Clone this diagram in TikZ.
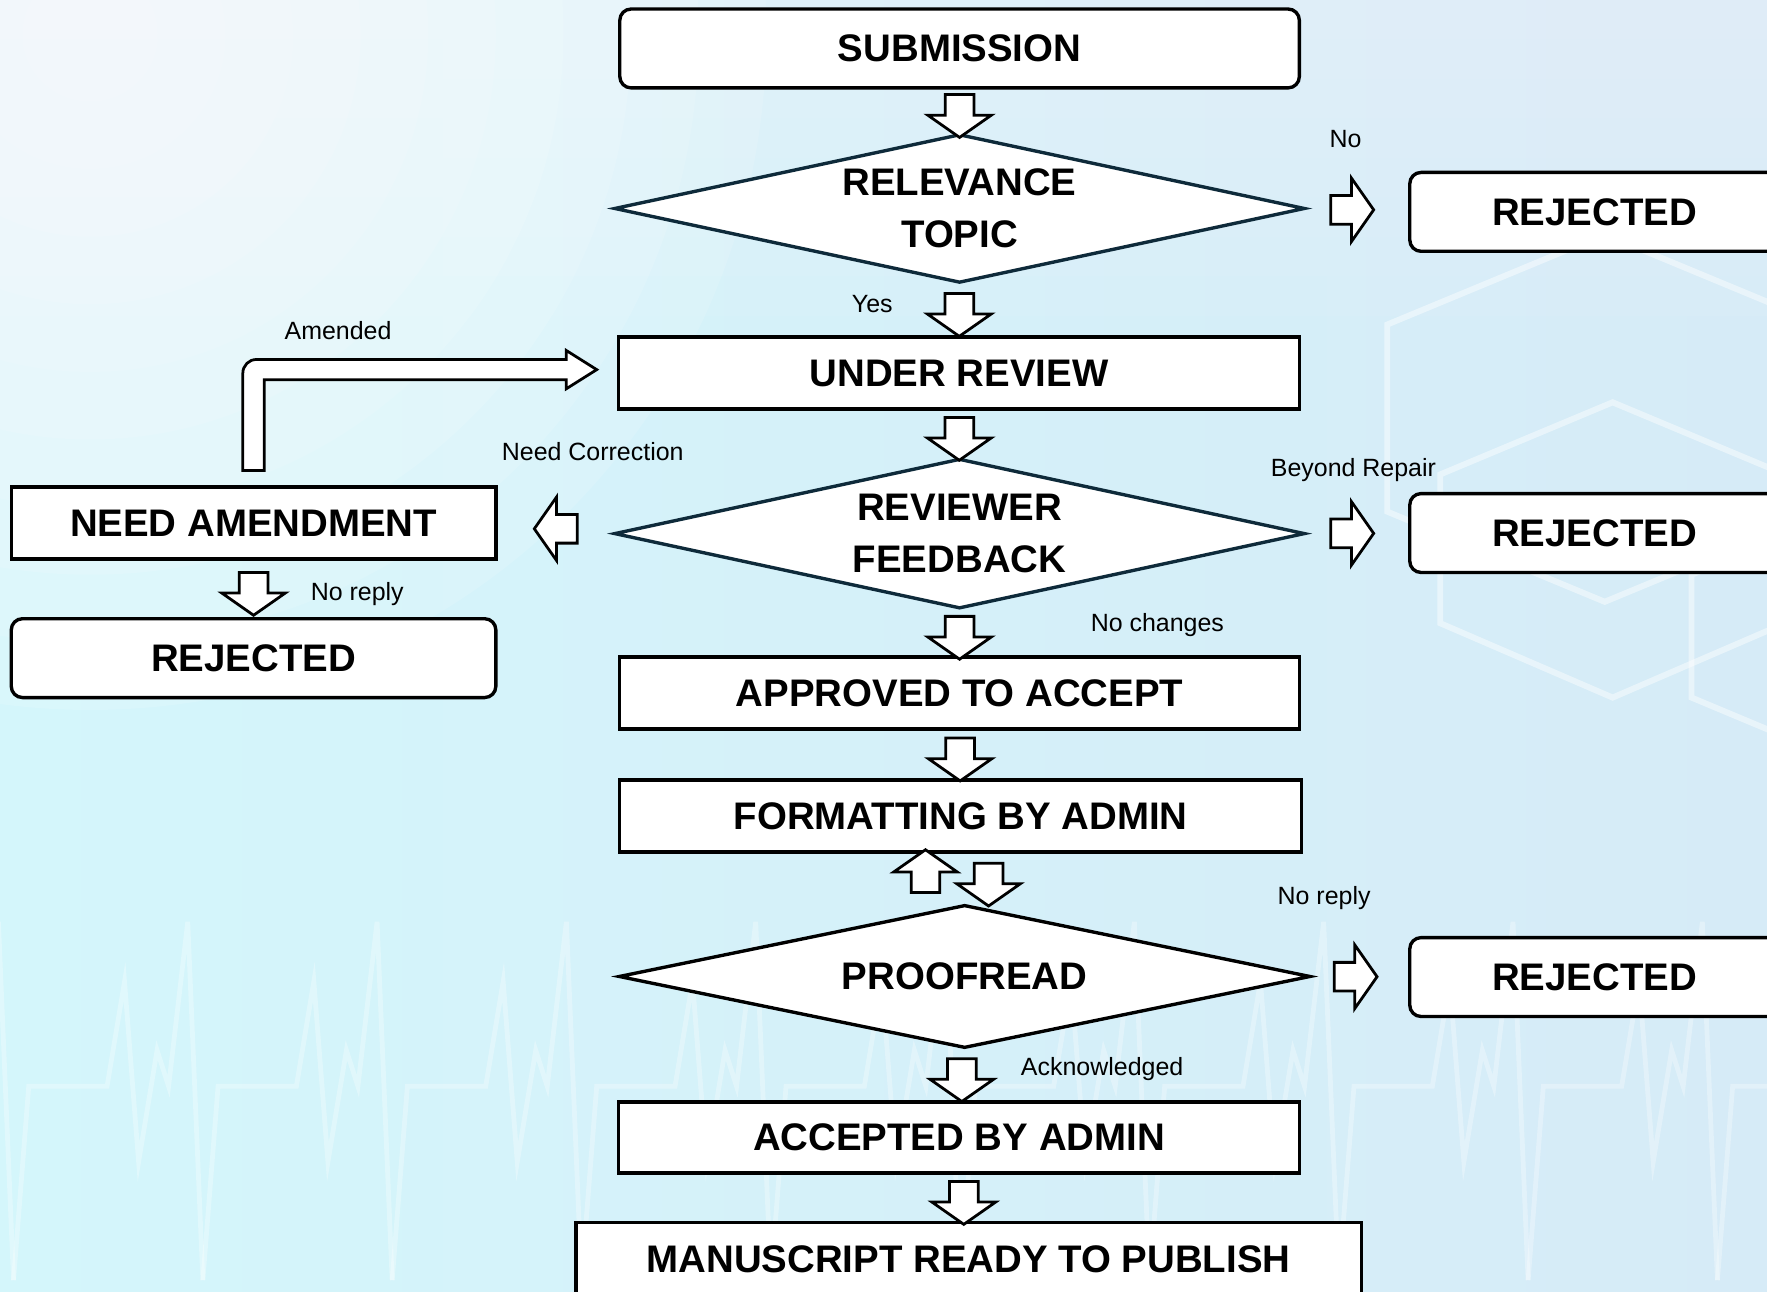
\documentclass[tikz,border=0pt]{standalone}
\usepackage{fontspec}
\setmainfont{Liberation Sans}
\usetikzlibrary{shapes.geometric,shapes.arrows,calc}

\definecolor{navyline}{HTML}{0E2A3A}
\definecolor{bgcyan}{HTML}{D4F6FB}
\definecolor{bgblue}{HTML}{D6EBF7}

\newcommand{\boxfont}{\bfseries\fontsize{9.7}{13.1}\selectfont}
\newcommand{\notefont}{\fontsize{6.3}{7.6}\selectfont}

\tikzset{
  stage/.style={draw=black, line width=0.85pt, fill=white, minimum height=0.64cm, inner sep=0pt, font=\boxfont},
  endstage/.style={stage, rounded corners=0.1cm, minimum height=0.70cm},
  decision/.style={diamond, draw=navyline, line width=0.85pt, fill=white, aspect=4.6, inner sep=0pt, align=center, font=\boxfont},
  flow/.style={single arrow, draw=black, fill=white, line width=0.7pt, minimum height=0.38cm, single arrow head extend=0.155cm, single arrow tip angle=110, inner xsep=0pt, inner ysep=0.115cm},
  note/.style={font=\notefont, inner sep=0pt},
  bgline/.style={white, opacity=0.45, line width=1.5pt, line join=miter},
  ecgline/.style={white, opacity=0.3, line width=1.2pt, line join=miter}
}

\begin{document}
\begin{tikzpicture}
\clip (0,0) rectangle (15.68,-11.46);
\fill[left color=bgcyan, right color=bgblue] (0,0) rectangle (15.68,-11.46);
\foreach \k in {1,...,8}
  \fill[white, opacity=0.05] (0,0) rectangle (15.68,{-0.35*\k});
\foreach \r in {1,...,10}
  \fill[white, opacity=0.12] (0.8,-0.3) circle ({0.6*\r});

\draw[bgline] (14.24,-2.08) -- (12.31,-2.88) -- (12.31,-4.54) -- (14.24,-5.34) -- (16.17,-4.54) -- (16.17,-2.88) -- cycle;
\draw[bgline] (14.31,-3.57) -- (12.78,-4.21) -- (12.78,-5.53) -- (14.31,-6.19) -- (15.84,-5.53) -- (15.84,-4.21) -- cycle;
\draw[bgline] (16.54,-4.46) -- (15.01,-5.10) -- (15.01,-6.19) -- (16.54,-6.83);
\foreach \s in {-1.56,0.12,...,16}
  \draw[ecgline] (\s,-11.36) -- ++(0.135,1.72) -- ++(0.695,0) -- ++(0.155,0.93) -- ++(0.125,-1.60)
    -- ++(0.164,0.99) -- ++(0.102,-0.32) -- ++(0.17,1.46) -- ++(0.134,-3.18);

\node[endstage, minimum width=6.03cm] (sub) at (8.515,-0.43) {SUBMISSION};
\node[decision, minimum width=6.13cm, minimum height=1.32cm] (rel) at (8.515,-1.85) {RELEVANCE\\TOPIC};
\node[endstage, minimum width=3.28cm] (rejA) at (14.15,-1.88) {REJECTED};
\node[stage, minimum width=6.04cm] (rev) at (8.51,-3.31) {UNDER REVIEW};
\node[decision, minimum width=6.13cm, minimum height=1.33cm] (fb) at (8.515,-4.735) {REVIEWER\\FEEDBACK};
\node[stage, minimum width=4.30cm] (amend) at (2.25,-4.64) {NEED AMENDMENT};
\node[endstage, minimum width=4.30cm] (rejL) at (2.25,-5.84) {REJECTED};
\node[endstage, minimum width=3.28cm] (rejB) at (14.15,-4.73) {REJECTED};
\node[stage, minimum width=6.03cm] (appr) at (8.515,-6.15) {APPROVED TO ACCEPT};
\node[stage, minimum width=6.05cm] (fmt) at (8.525,-7.24) {FORMATTING BY ADMIN};
\node[decision, draw=black, minimum width=6.14cm, minimum height=1.27cm] (proof) at (8.56,-8.665) {PROOFREAD};
\node[endstage, minimum width=3.28cm] (rejC) at (14.15,-8.67) {REJECTED};
\node[stage, minimum width=6.04cm, minimum height=0.63cm] (accp) at (8.51,-10.095) {ACCEPTED BY ADMIN};
\node[stage, minimum width=6.97cm] (pub) at (8.595,-11.17) {MANUSCRIPT READY TO PUBLISH};

\node[flow, rotate=-90] (f1) at ($(sub.south)!0.5!(rel.north)$) {};
\node[flow] (f2) at ($(rel.east)!0.4!(rejA.west)$) {};
\node[flow, rotate=-90] (f3) at ($(rel.south)!0.5!(rev.north)$) {};
\node[flow, rotate=-90] (f4) at ($(rev.south)!0.5!(fb.north)$) {};
\node[flow, rotate=180] (f5) at ($(amend.east)!0.55!(fb.west)$) {};
\node[flow] (f6) at ($(fb.east)!0.4!(rejB.west)$) {};
\node[flow, rotate=-90] (f7) at ($(amend.south)!0.5!(rejL.north)$) {};
\node[flow, rotate=-90] (f8) at ($(fb.south)!0.5!(appr.north)$) {};
\node[flow, rotate=-90] (f9) at ($(appr.south)!0.5!(fmt.north)$) {};
\node[flow, rotate=90] (f10) at ($($(fmt.south)!0.5!(proof.north)$)+(-0.33,0.02)$) {};
\node[flow, rotate=-90] (f11) at ($($(fmt.south)!0.5!(proof.north)$)+(0.23,-0.01)$) {};
\node[flow] (f12) at ($(proof.east)!0.4!(rejC.west)$) {};
\node[flow, rotate=-90] (f13) at ($(proof.south)!0.5!(accp.north)$) {};
\node[flow, rotate=-90] (f14) at ($(accp.south)!0.5!(pub.north)$) {};

\draw[black, fill=white, line width=0.7pt] let \p1 = (amend.north), \p2 = (rev.west) in
  (\x1-0.095cm,\y1+0.13cm) -- (\x1-0.095cm,\y2) arc[start angle=180, end angle=90, radius=0.12cm]
  -- (\x2-0.45cm,\y2+0.12cm) -- (\x2-0.45cm,\y2+0.20cm) -- (\x2-0.18cm,\y2+0.03cm)
  -- (\x2-0.45cm,\y2-0.14cm) -- (\x2-0.45cm,\y2-0.06cm) -- (\x1+0.095cm,\y2-0.06cm)
  -- (\x1+0.095cm,\y1+0.13cm) -- cycle;

\node[note] (lNo) at (11.94,-1.23) {No};
\node[note] (lYes) at (7.74,-2.70) {Yes};
\node[note] (lAmended) at (3.00,-2.93) {Amended};
\node[note] (lCorr) at (5.26,-4.01) {Need Correction};
\node[note] (lRepair) at (12.01,-4.17) {Beyond Repair};
\node[note] (lReplyA) at (3.17,-5.27) {No reply};
\node[note] (lSame) at (10.27,-5.55) {No changes};
\node[note] (lReplyB) at (11.75,-7.97) {No reply};
\node[note] (lAck) at (9.78,-9.49) {Acknowledged};
\end{tikzpicture}
\end{document}
